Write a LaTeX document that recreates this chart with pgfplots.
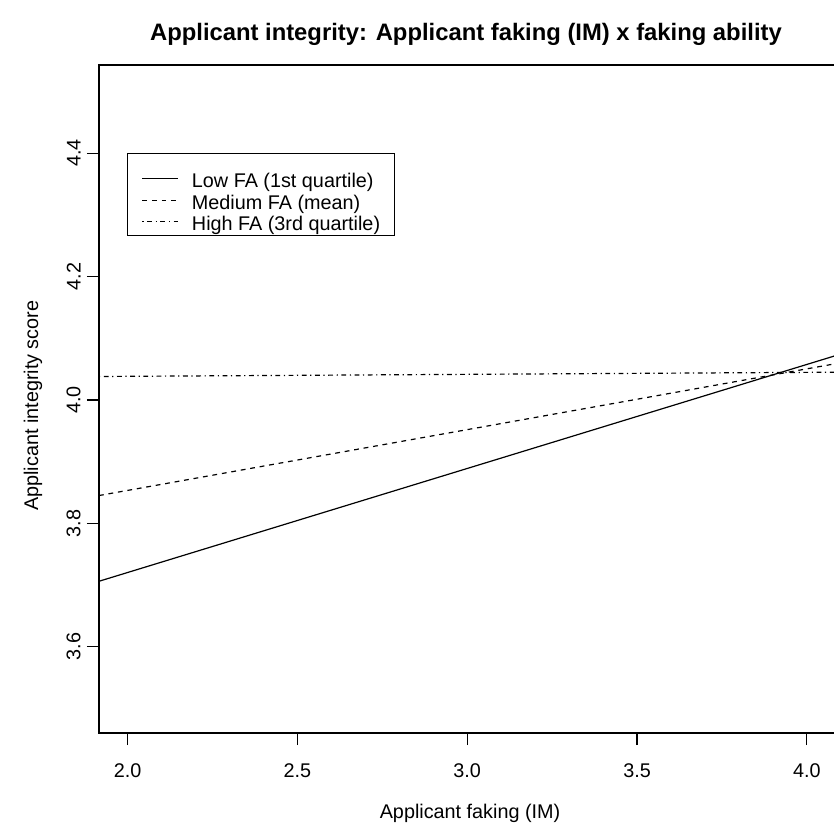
\documentclass[border=0pt]{standalone}
\usepackage{pgfplots}
\pgfplotsset{compat=1.18}
\usepackage{fontspec}
\setmainfont{Liberation Sans}
\newcommand{\lbl}{\fontsize{9.9}{11}\selectfont}
\begin{document}
\begin{tikzpicture}
\useasboundingbox (0,0) rectangle (417pt,415.5pt);
\begin{axis}[
  at={(49.5pt,49pt)}, anchor=south west,
  scale only axis, width=370.5pt, height=334pt,
  xmin=1.916, xmax=4.0975, ymin=3.460, ymax=4.543,
  axis line style={black, line width=0.7pt},
  tick align=outside, major tick length=6pt,
  tick style={black, line width=0.6pt},
  xtick pos=lower, ytick pos=lower,
  xtick={2,2.5,3,3.5,4}, xticklabels={2.0,2.5,3.0,3.5,4.0},
  ytick={3.6,3.8,4.0,4.2,4.4}, yticklabels={3.6,3.8,4.0,4.2,4.4},
  ticklabel style={font=\lbl},
  xticklabel style={anchor=north, inner sep=0pt, yshift=-9pt},
  yticklabel style={rotate=90, anchor=south, inner sep=0pt, yshift=3pt},
  title={\bfseries Applicant integrity: Applicant faking (IM) x faking ability},
  title style={at={(rel axis cs:0.4952,1)}, anchor=center, yshift=9.5pt, font=\fontsize{11.9}{13}\selectfont, inner sep=0pt},
  xlabel={Applicant faking (IM)},
  xlabel style={at={(rel axis cs:0.5007,0)}, anchor=center, yshift=-40pt, font=\lbl, inner sep=0pt},
  ylabel={Applicant integrity score},
  ylabel style={at={(rel axis cs:0,0.49)}, anchor=center, yshift=33pt, font=\lbl, inner sep=0pt},
  legend style={at={(0.038,0.868)}, anchor=north west, draw=black, line width=0.6pt, fill=white,
    inner xsep=7pt, inner ysep=0.5pt, font=\lbl, row sep=1.75pt, column sep=6.5pt,
    nodes={inner sep=0pt, text height=7pt, text depth=2pt, anchor=base west}},
  legend image code/.code={\draw[#1] (0pt,4.5pt) -- (18pt,4.5pt);},
]
\addplot[black, line width=0.6pt] coordinates {(1.916,3.706) (4.0975,4.074)};
\addlegendentry[text height=16.5pt]{Low FA (1st quartile)}
\addplot[black, line width=0.6pt, dash pattern=on 2.4pt off 2.4pt] coordinates {(1.916,3.845) (4.0975,4.060)};
\addlegendentry{Medium FA (mean)}
\addplot[black, line width=0.6pt, dash pattern=on 0.6pt off 1.8pt on 2.4pt off 1.8pt] coordinates {(1.916,4.038) (4.0975,4.045)};
\addlegendentry{High FA (3rd quartile)}
\end{axis}
\end{tikzpicture}
\end{document}
